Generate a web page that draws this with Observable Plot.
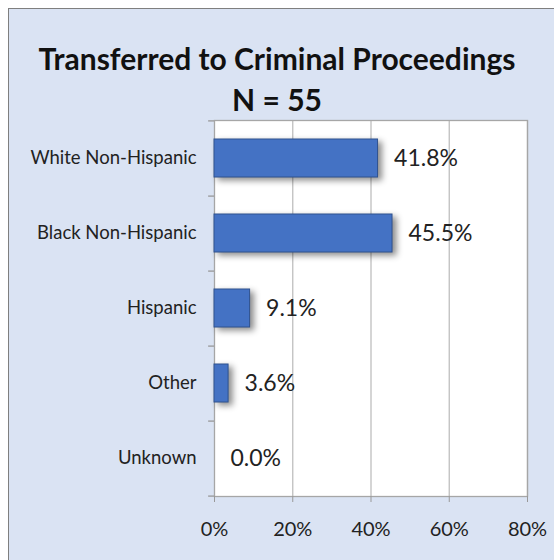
<!DOCTYPE html>
<html>
<head>
<meta charset="utf-8">
<script src="https://cdn.jsdelivr.net/npm/d3@7"></script>
<script src="https://cdn.jsdelivr.net/npm/@observablehq/plot@0.6"></script>
<style>
  html, body { margin: 0; padding: 0; background: #ffffff; }
  #wrap { position: relative; width: 554px; height: 560px; overflow: hidden; font-family: Lato, "Open Sans", sans-serif; }
  #panel { position: absolute; left: 8px; top: 8px; width: 560px; height: 560px; background: #dae3f3; border: 1px solid #7f7f7f; box-sizing: border-box; }
  #title { position: absolute; left: 0; top: 38px; width: 554px; text-align: center; font-weight: bold; font-size: 30px; line-height: 41px; color: #111; }
  #chart { position: absolute; left: 0; top: 0; }
  .bars rect { filter: drop-shadow(4px 3px 3px rgba(0,0,0,0.45)); }
</style>
</head>
<body>
<div id="wrap">
  <div id="panel"></div>
  <div id="title">Transferred to Criminal Proceedings<br>N = 55</div>
  <div id="chart"></div>
</div>
<script>
const categories = ["White Non-Hispanic", "Black Non-Hispanic", "Hispanic", "Other", "Unknown"];
const values = [0.418, 0.455, 0.091, 0.036, 0.0];
const valueLabels = ["41.8%", "45.5%", "9.1%", "3.6%", "0.0%"];
const xTicks = [0, 0.2, 0.4, 0.6, 0.8];

const data = categories.map((c, i) => ({category: c, value: values[i], label: valueLabels[i]}));

const chart = Plot.plot({
  width: 554,
  height: 560,
  marginLeft: 214,
  marginRight: 27,
  marginTop: 120,
  marginBottom: 64,
  style: {background: "transparent", fontFamily: "Lato, 'Open Sans', sans-serif", color: "#222"},
  x: {domain: [0, 0.8], ticks: xTicks, tickFormat: d => Math.round(d * 100) + "%", label: null},
  y: {domain: categories, label: null, paddingInner: 0.5, paddingOuter: 0.25},
  marks: [
    Plot.frame({fill: "white", stroke: "none"}),
    Plot.ruleX(xTicks.slice(1), {stroke: "#bfbfbf", strokeWidth: 1.3}),
    Plot.frame({stroke: "#a6a6a6", strokeWidth: 1.3}),
    Plot.barX(data, {x: "value", y: "category", fill: "#4472c4", stroke: "#2f528f", strokeWidth: 1, className: "bars"}),
    Plot.text(data, {x: "value", y: "category", text: "label", textAnchor: "start", dx: 16, fontSize: 23, fill: "#222"}),
    Plot.ruleY(categories, {y: d => d, x1: -0.015, x2: 0, dy: 37.6, stroke: "#999", strokeWidth: 1.3, clip: false}),
    Plot.ruleY(categories.slice(0, 1), {y: d => d, x1: -0.015, x2: 0, dy: -37.6, stroke: "#999", strokeWidth: 1.3}),
    Plot.axisY({tickSize: 0, tickPadding: 18, fontSize: 18.5, fill: "#222"}),
    Plot.axisX({ticks: xTicks, tickFormat: d => Math.round(d * 100) + "%", tickSize: 6, tickPadding: 19, fontSize: 20, stroke: "#999", fill: "#222"})
  ]
});
document.getElementById("chart").appendChild(chart);
</script>
</body>
</html>
